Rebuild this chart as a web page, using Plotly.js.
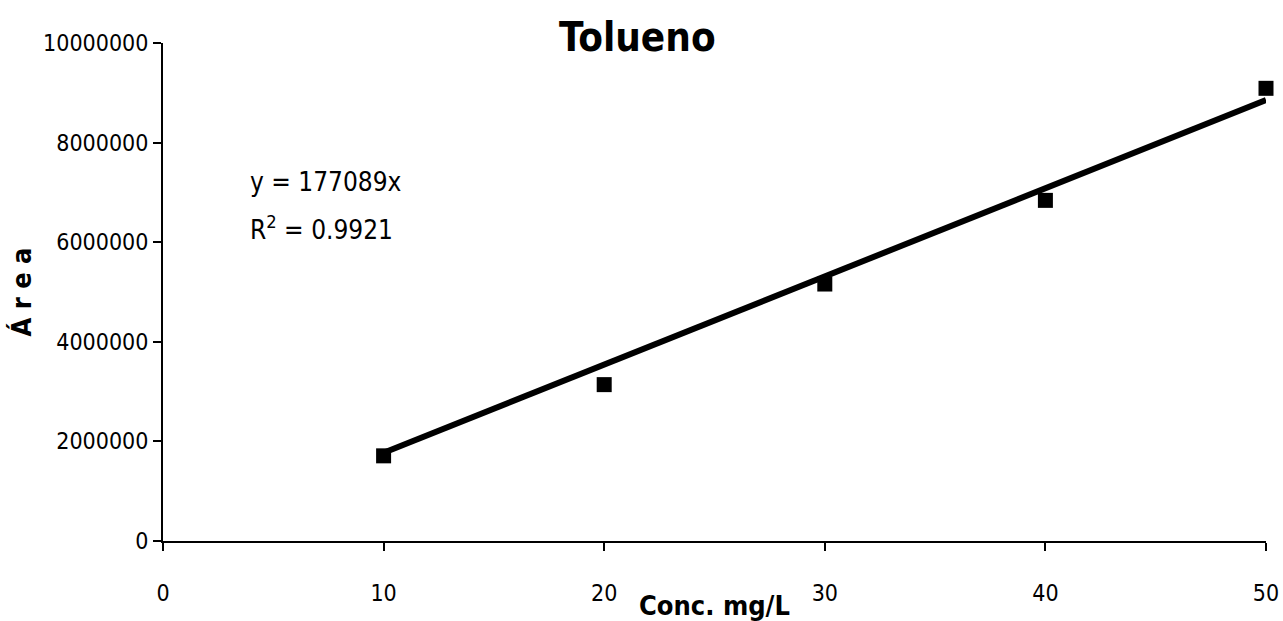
<!DOCTYPE html>
<html>
<head>
<meta charset="utf-8">
<script src="https://cdn.plot.ly/plotly-3.0.1.min.js"></script>
<style>
  html, body { margin: 0; padding: 0; background: #fff; }
  #chart { width: 1283px; height: 621px; }
</style>
</head>
<body>
<div id="chart"></div>
<script>
// Calibration standards for toluene: concentration (mg/L) vs. peak area
const concentrations = [10, 20, 30, 40, 50];
const areas = [1710000, 3140000, 5160000, 6840000, 9090000];

// Linear fit through the origin, as reported on the chart
const fitSlope = 177089;
const fitR2 = 0.9921;
const fitRange = [10, 50];

const xTicks = [0, 10, 20, 30, 40, 50];
const yTicks = [0, 2000000, 4000000, 6000000, 8000000, 10000000];

const FONT = '"DejaVu Sans Condensed", "Liberation Sans Narrow", "Arial Narrow", sans-serif';

const fitY = fitRange.map(x => fitSlope * x);

const points = {
  x: concentrations,
  y: areas,
  type: 'scatter',
  mode: 'markers',
  cliponaxis: false,
  marker: { symbol: 'square', size: 15, color: '#000' },
  showlegend: false,
  hoverinfo: 'x+y'
};

const fitLine = {
  x: fitRange,
  y: fitY,
  type: 'scatter',
  mode: 'lines',
  cliponaxis: false,
  line: { color: '#000', width: 6 },
  showlegend: false,
  hoverinfo: 'skip'
};

const layout = {
  width: 1283,
  height: 621,
  margin: { l: 163, r: 17, t: 43, b: 80 },
  paper_bgcolor: '#fff',
  plot_bgcolor: '#fff',
  font: { family: FONT, color: '#000', size: 24 },
  title: {
    text: '<b>Tolueno</b>',
    font: { family: FONT, size: 40, color: '#000' },
    xref: 'paper', x: 0.43, xanchor: 'center',
    yref: 'container', y: 0.94, yanchor: 'middle'
  },
  xaxis: {
    range: [0, 50],
    tickvals: xTicks,
    ticktext: xTicks.map(String),
    showgrid: false,
    zeroline: false,
    showline: true,
    linecolor: '#000',
    linewidth: 2,
    ticks: 'outside',
    ticklen: 8,
    tickwidth: 2,
    tickcolor: '#000',
    ticklabelstandoff: 22,
    tickfont: { family: FONT, size: 23, color: '#000' },
    title: {
      text: '<b>Conc. mg/L</b>',
      font: { family: FONT, size: 27, color: '#000' },
      standoff: 0
    },
    fixedrange: true
  },
  yaxis: {
    range: [0, 10000000],
    tickvals: yTicks,
    ticktext: yTicks.map(String),
    showgrid: false,
    zeroline: false,
    showline: true,
    linecolor: '#000',
    linewidth: 2,
    ticks: 'outside',
    ticklen: 8,
    tickwidth: 2,
    tickcolor: '#000',
    tickfont: { family: FONT, size: 23, color: '#000' },
    title: {
      text: '<b>Á r e a</b>',
      font: { family: FONT, size: 27, color: '#000' },
      standoff: 4
    },
    fixedrange: true
  },
  annotations: [
    {
      text: 'y = ' + fitSlope + 'x',
      xref: 'paper', yref: 'paper',
      x: 0.077, y: 0.721,
      xanchor: 'left', yanchor: 'middle',
      showarrow: false,
      font: { family: FONT, size: 26, color: '#000' }
    },
    {
      text: 'R<sup>2</sup> = ' + fitR2,
      xref: 'paper', yref: 'paper',
      x: 0.077, y: 0.628,
      xanchor: 'left', yanchor: 'middle',
      showarrow: false,
      font: { family: FONT, size: 26, color: '#000' }
    }
  ]
};

Plotly.newPlot('chart', [points, fitLine], layout, { displayModeBar: false, staticPlot: true });
</script>
</body>
</html>
